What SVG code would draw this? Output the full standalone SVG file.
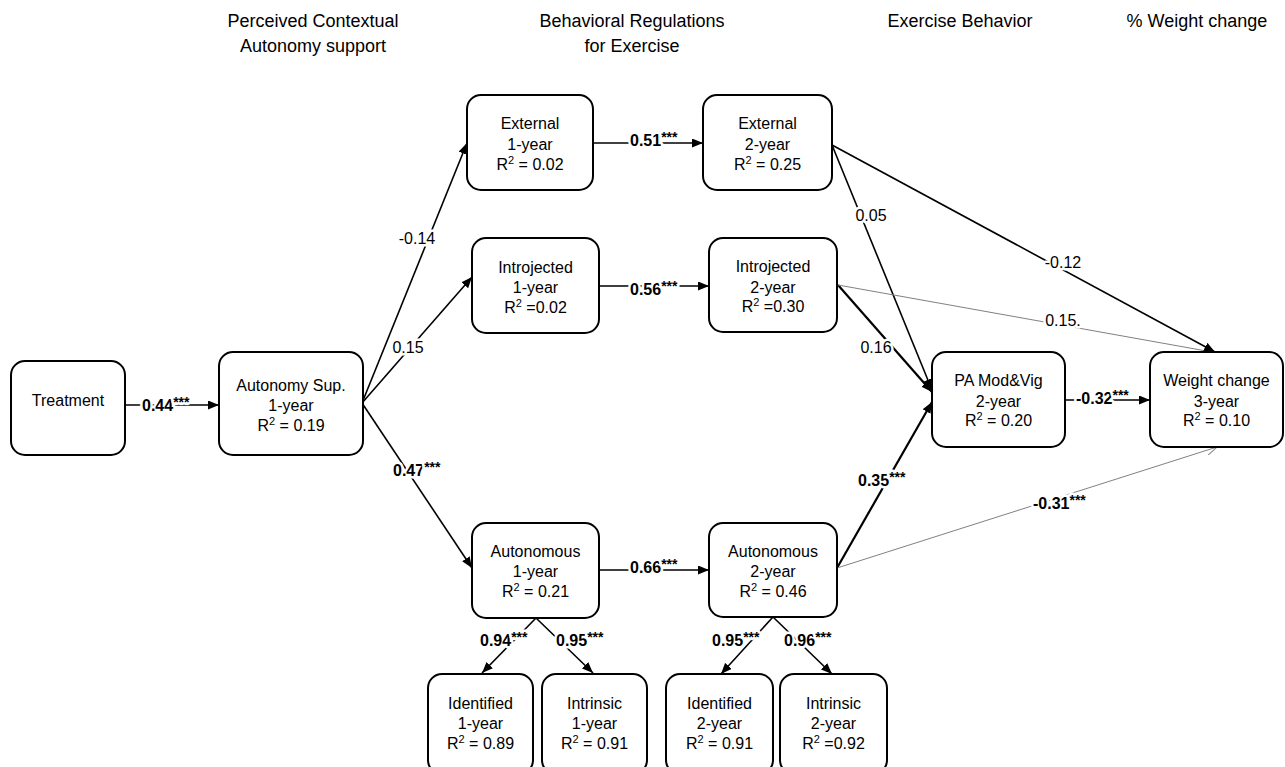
<svg xmlns="http://www.w3.org/2000/svg" width="1285" height="767" viewBox="0 0 1285 767">
<style>
text{font-family:"Liberation Sans",Arial,sans-serif;fill:#000}
.box{fill:#fff;stroke:#000;stroke-width:2}
.nt{font-size:16px;text-anchor:middle}
.hd{font-size:18px;text-anchor:middle}
.e{stroke:#000;stroke-width:1.6;fill:none}
.ek{stroke:#000;stroke-width:2.2;fill:none}
.thin{stroke:#808080;stroke-width:1;fill:none}
.lb{font-size:16px;paint-order:stroke;stroke:#fff;stroke-width:5px;stroke-linejoin:round}
.m{text-anchor:middle}
.b{font-weight:bold}
.st{font-size:14px}
</style>
<defs>
<marker id="arr" markerUnits="userSpaceOnUse" markerWidth="11" markerHeight="9" refX="11" refY="4.5" orient="auto"><path d="M0,0 L11,4.5 L0,9 z" fill="#000"/></marker>
<marker id="open" markerUnits="userSpaceOnUse" markerWidth="12" markerHeight="10" refX="11" refY="5" orient="auto"><path d="M0,0 L11,5 L0,10" fill="none" stroke="#808080" stroke-width="1"/></marker>
</defs>

<g id="headers">
<text class="hd" x="313" y="27">Perceived Contextual</text>
<text class="hd" x="313" y="52">Autonomy support</text>
<text class="hd" x="632" y="27">Behavioral Regulations</text>
<text class="hd" x="632" y="52">for Exercise</text>
<text class="hd" x="960" y="27">Exercise Behavior</text>
<text class="hd" x="1197" y="27">% Weight change</text>
</g>

<g id="connectors">
<path class="e" d="M125,405 L219,405" marker-end="url(#arr)"/>
<path class="e" d="M362,403 L467,143" marker-end="url(#arr)"/>
<path class="e" d="M362,403 L472,277" marker-end="url(#arr)"/>
<path class="e" d="M362,403 L472,568" marker-end="url(#arr)"/>
<path class="e" d="M593,143 L703,143" marker-end="url(#arr)"/>
<path class="e" d="M599,286 L709,286" marker-end="url(#arr)"/>
<path class="e" d="M599,570 L709,570" marker-end="url(#arr)"/>
<path class="e" d="M536,618 L482,673" marker-end="url(#arr)"/>
<path class="e" d="M536,618 L593,673" marker-end="url(#arr)"/>
<path class="e" d="M773,617 L721,674" marker-end="url(#arr)"/>
<path class="e" d="M773,617 L832,674" marker-end="url(#arr)"/>
<path class="e" d="M832,145 L932,390" marker-end="url(#arr)"/>
<path class="ek" d="M838,285 L932,392" marker-end="url(#arr)"/>
<path class="ek" d="M837,568 L932,402" marker-end="url(#arr)"/>
<path class="thin" d="M838,285 L1212,352"/>
<path class="e" d="M832,145 L1215,352" marker-end="url(#arr)"/>
<path class="thin" d="M837,568 L1217,447" marker-end="url(#open)"/>
<path class="e" d="M1065,400 L1150,400" marker-end="url(#arr)"/>

<text class="lb b" x="142" y="411">0.44<tspan class="st" dy="-4">***</tspan></text>
<text class="lb m" x="417" y="244">-0.14</text>
<text class="lb m" x="408" y="353">0.15</text>
<text class="lb b" x="393" y="476">0.47<tspan class="st" dy="-4">***</tspan></text>
<text class="lb b" x="630" y="146">0.51<tspan class="st" dy="-4">***</tspan></text>
<text class="lb b" x="630" y="295">0.56<tspan class="st" dy="-4">***</tspan></text>
<text class="lb b" x="630" y="573">0.66<tspan class="st" dy="-4">***</tspan></text>
<text class="lb b" x="480" y="646">0.94<tspan class="st" dy="-4">***</tspan></text>
<text class="lb b" x="556" y="646">0.95<tspan class="st" dy="-4">***</tspan></text>
<text class="lb b" x="712" y="646">0.95<tspan class="st" dy="-4">***</tspan></text>
<text class="lb b" x="784" y="646">0.96<tspan class="st" dy="-4">***</tspan></text>
<text class="lb m" x="871" y="221">0.05</text>
<text class="lb m" x="876" y="353">0.16</text>
<text class="lb b" x="858" y="486">0.35<tspan class="st" dy="-4">***</tspan></text>
<text class="lb m" x="1063" y="268">-0.12</text>
<text class="lb m" x="1063" y="326">0.15.</text>
<text class="lb b" x="1033" y="509">-0.31<tspan class="st" dy="-4">***</tspan></text>
<text class="lb b" x="1076" y="404">-0.32<tspan class="st" dy="-4">***</tspan></text>
</g>

<g id="treatment">
<rect class="box" x="11" y="361" width="114" height="94" rx="14"/>
<text class="nt" x="68" y="406">Treatment</text>
</g>
<g id="autonomy-sup-1">
<rect class="box" x="219" y="352" width="144" height="103" rx="14"/>
<text class="nt" x="291" y="391">Autonomy Sup.</text>
<text class="nt" x="291" y="411">1-year</text>
<text class="nt" x="291" y="431">R<tspan font-size="11" dy="-6">2</tspan><tspan dy="6"> = 0.19</tspan></text>
</g>
<g id="external-1">
<rect class="box" x="467" y="95" width="126" height="95" rx="14"/>
<text class="nt" x="530" y="129">External</text>
<text class="nt" x="530" y="150">1-year</text>
<text class="nt" x="530" y="170">R<tspan font-size="11" dy="-6">2</tspan><tspan dy="6"> = 0.02</tspan></text>
</g>
<g id="introjected-1">
<rect class="box" x="472" y="238" width="127" height="95" rx="14"/>
<text class="nt" x="535.5" y="273">Introjected</text>
<text class="nt" x="535.5" y="293">1-year</text>
<text class="nt" x="535.5" y="313">R<tspan font-size="11" dy="-6">2</tspan><tspan dy="6"> =0.02</tspan></text>
</g>
<g id="external-2">
<rect class="box" x="703" y="95" width="129" height="95" rx="14"/>
<text class="nt" x="767.5" y="129">External</text>
<text class="nt" x="767.5" y="150">2-year</text>
<text class="nt" x="767.5" y="170">R<tspan font-size="11" dy="-6">2</tspan><tspan dy="6"> = 0.25</tspan></text>
</g>
<g id="introjected-2">
<rect class="box" x="709" y="238" width="128" height="94" rx="14"/>
<text class="nt" x="773" y="272">Introjected</text>
<text class="nt" x="773" y="293">2-year</text>
<text class="nt" x="773" y="312">R<tspan font-size="11" dy="-6">2</tspan><tspan dy="6"> =0.30</tspan></text>
</g>
<g id="pa-modvig-2">
<rect class="box" x="932" y="352" width="133" height="95" rx="14"/>
<text class="nt" x="998.5" y="386">PA Mod&amp;Vig</text>
<text class="nt" x="998.5" y="407">2-year</text>
<text class="nt" x="998.5" y="426">R<tspan font-size="11" dy="-6">2</tspan><tspan dy="6"> = 0.20</tspan></text>
</g>
<g id="weight-change-3">
<rect class="box" x="1150" y="352" width="133" height="95" rx="14"/>
<text class="nt" x="1216.5" y="386">Weight change</text>
<text class="nt" x="1216.5" y="407">3-year</text>
<text class="nt" x="1216.5" y="426">R<tspan font-size="11" dy="-6">2</tspan><tspan dy="6"> = 0.10</tspan></text>
</g>
<g id="autonomous-1">
<rect class="box" x="472" y="523" width="127" height="95" rx="14"/>
<text class="nt" x="535.5" y="557">Autonomous</text>
<text class="nt" x="535.5" y="577">1-year</text>
<text class="nt" x="535.5" y="597">R<tspan font-size="11" dy="-6">2</tspan><tspan dy="6"> = 0.21</tspan></text>
</g>
<g id="autonomous-2">
<rect class="box" x="709" y="523" width="128" height="94" rx="14"/>
<text class="nt" x="773" y="557">Autonomous</text>
<text class="nt" x="773" y="577">2-year</text>
<text class="nt" x="773" y="597">R<tspan font-size="11" dy="-6">2</tspan><tspan dy="6"> = 0.46</tspan></text>
</g>
<g id="identified-1">
<rect class="box" x="428" y="674" width="105" height="100" rx="14"/>
<text class="nt" x="480.5" y="709">Identified</text>
<text class="nt" x="480.5" y="729">1-year</text>
<text class="nt" x="480.5" y="749">R<tspan font-size="11" dy="-6">2</tspan><tspan dy="6"> = 0.89</tspan></text>
</g>
<g id="intrinsic-1">
<rect class="box" x="542" y="674" width="105" height="100" rx="14"/>
<text class="nt" x="594.5" y="709">Intrinsic</text>
<text class="nt" x="594.5" y="729">1-year</text>
<text class="nt" x="594.5" y="749">R<tspan font-size="11" dy="-6">2</tspan><tspan dy="6"> = 0.91</tspan></text>
</g>
<g id="identified-2">
<rect class="box" x="666" y="674" width="107" height="100" rx="14"/>
<text class="nt" x="719.5" y="709">Identified</text>
<text class="nt" x="719.5" y="729">2-year</text>
<text class="nt" x="719.5" y="749">R<tspan font-size="11" dy="-6">2</tspan><tspan dy="6"> = 0.91</tspan></text>
</g>
<g id="intrinsic-2">
<rect class="box" x="780" y="674" width="107" height="100" rx="14"/>
<text class="nt" x="833.5" y="709">Intrinsic</text>
<text class="nt" x="833.5" y="729">2-year</text>
<text class="nt" x="833.5" y="749">R<tspan font-size="11" dy="-6">2</tspan><tspan dy="6"> =0.92</tspan></text>
</g>
</svg>
